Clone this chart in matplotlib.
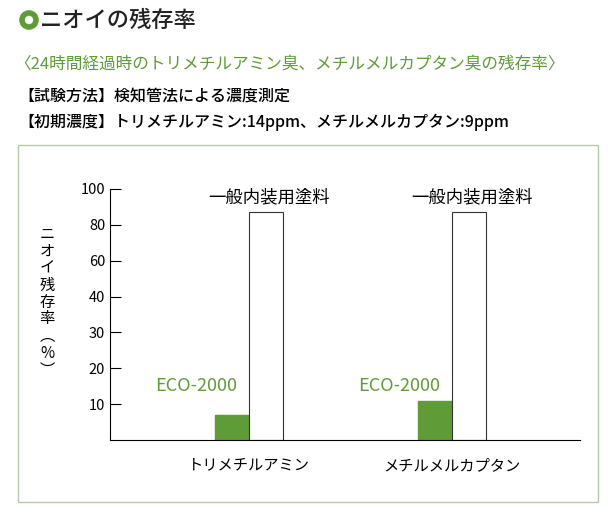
import numpy as np
import matplotlib.pyplot as plt
from matplotlib.patches import Rectangle, Ellipse

plt.rcParams['font.family'] = 'Noto Sans CJK JP'

categories = ['トリメチルアミン', 'メチルメルカプタン']
eco_values = [7, 11]
general_values = [87, 87]
y_ticks = [10, 20, 30, 40, 60, 80, 100]
green = '#5f9c38'

# the chart spaces its ticks evenly, so map values to tick index
tick_vals = [0, 10, 20, 30, 40, 60, 80, 100]
tick_pos = list(range(len(tick_vals)))
fwd = lambda v: np.interp(v, tick_vals, tick_pos)
inv = lambda p: np.interp(p, tick_pos, tick_vals)

fig = plt.figure(figsize=(6.15, 5.15), dpi=100)

# header
fig.add_artist(Ellipse((29 / 615, 1 - 20 / 515), 14 / 615, 14 / 515, transform=fig.transFigure,
                       facecolor='none', edgecolor=green, lw=4))
fig.text(40 / 615, 1 - 20 / 515, 'ニオイの残存率', fontsize=16, va='center',
         color='#222222', fontweight='medium')
fig.text(14 / 615, 1 - 64 / 515, '〈24時間経過時のトリメチルアミン臭、メチルメルカプタン臭の残存率〉',
         fontsize=12, va='center', color=green)
fig.text(18 / 615, 1 - 97 / 515, '【試験方法】検知管法による濃度測定', fontsize=11.5,
         va='center', fontweight='medium')
fig.text(18 / 615, 1 - 122 / 515, '【初期濃度】トリメチルアミン:14ppm、メチルメルカプタン:9ppm',
         fontsize=11.5, va='center', fontweight='medium')

# frame box
fig.add_artist(Rectangle((18 / 615, 1 - 502 / 515), 580 / 615, 357 / 515, transform=fig.transFigure,
                         facecolor='none', edgecolor='#b5c9a8', lw=1))

ax = fig.add_axes([110 / 615, 75 / 515, 470 / 615, 251 / 515])
ax.set_yscale('function', functions=(fwd, inv))
ax.set_ylim(0, 100)
ax.set_xlim(-0.685, 1.63)

x = np.arange(len(categories))
w = 0.167
ax.bar(x - w / 2, eco_values, w, color=green, edgecolor=green)
ax.bar(x + w / 2, general_values, w, color='white', edgecolor='#333333', lw=0.8)

for xi in x:
    ax.text(xi - 0.26, 15, 'ECO-2000', color=green, fontsize=13, ha='center', va='center')
    ax.text(xi + 0.1, 95.5, '一般内装用塗料', fontsize=12.5, ha='center', va='center')

ax.set_yticks(y_ticks)
ax.set_yticklabels([str(t) for t in y_ticks], fontsize=10.5)
ax.set_xticks(x)
ax.set_xticklabels(categories, fontsize=11)
ax.tick_params(axis='y', direction='in', length=8, width=0.8)
ax.tick_params(axis='x', length=0, pad=12)
for s in ['top', 'right']:
    ax.spines[s].set_visible(False)
ax.spines['left'].set_linewidth(0.8)
ax.spines['bottom'].set_linewidth(0.8)

fig.text(47 / 615, 1 - 302 / 515, '\n'.join('ニオイ残存率︵%︶'), fontsize=11,
         ha='center', va='center', linespacing=1.0)

fig.savefig('out.png', dpi=100)
